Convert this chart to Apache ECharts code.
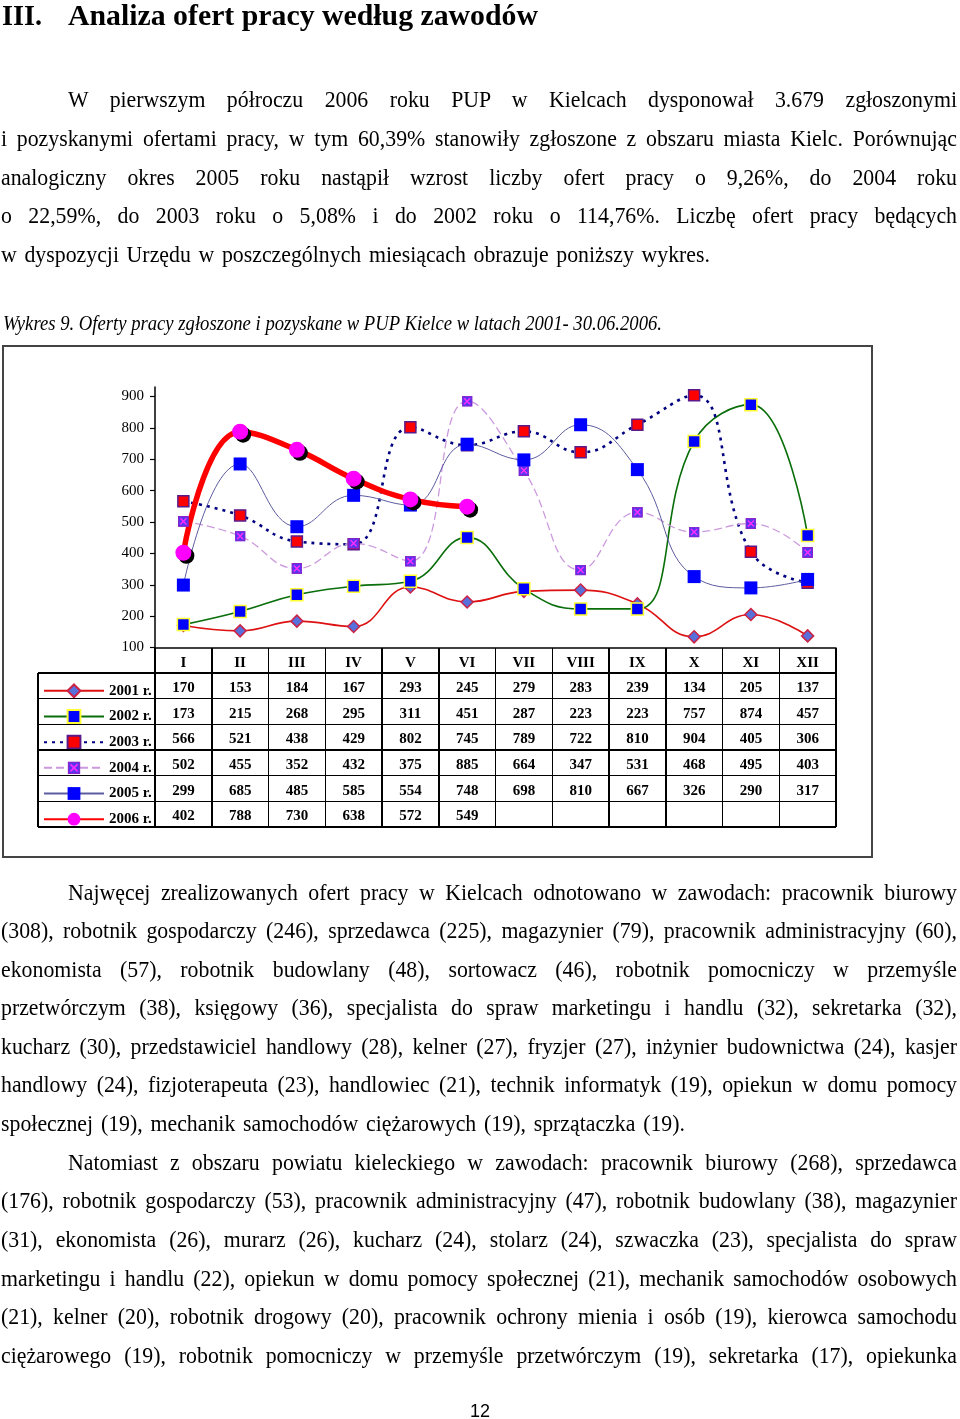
<!DOCTYPE html>
<html><head><meta charset="utf-8">
<script src="https://cdn.jsdelivr.net/npm/echarts/dist/echarts.min.js"></script>
<style>
body{margin:0;width:960px;height:1419px;position:relative;background:#fff;overflow:hidden;font-family:'Liberation Serif','Times New Roman',serif;color:#000}
#chart{position:absolute;left:0;top:0;width:960px;height:1419px;z-index:1}
.ln{position:absolute;white-space:pre;line-height:30px;height:30px;z-index:2}
.ln span{display:inline-block;transform-origin:0 50%}
#box{position:absolute;left:2px;top:345px;width:871px;height:513px;box-sizing:border-box;border:2px solid #444;z-index:0}
.hl,.vl{position:absolute;background:#000;z-index:2}
.cell{position:absolute;text-align:center;font-size:15px;font-weight:bold;line-height:20px;height:20px;z-index:2}
</style></head>
<body>
<div id="box"></div>
<div id="chart"></div>
<script>
// ---- data ----
const months = ['I','II','III','IV','V','VI','VII','VIII','IX','X','XI','XII'];
const seriesNames = ['2001 r.','2002 r.','2003 r.','2004 r.','2005 r.','2006 r.'];
const y2001 = [170,153,184,167,293,245,279,283,239,134,205,137];
const y2002 = [173,215,268,295,311,451,287,223,223,757,874,457];
const y2003 = [566,521,438,429,802,745,789,722,810,904,405,306];
const y2004 = [502,455,352,432,375,885,664,347,531,468,495,403];
const y2005 = [299,685,485,585,554,748,698,810,667,326,290,317];
const y2006 = [402,788,730,638,572,549];
const yTicks = [100,200,300,400,500,600,700,800,900];

// ---- text ---- [text, x, centerY, targetWidth, fontSize, condense, style, weight]
const F=22.5, C=0.97;
const lines = [
 ['III.',2,15,40,30,1,'','bold'],
 ['Analiza ofert pracy według zawodów',68,15,470,30,1,'','bold'],
 ['W pierwszym półroczu 2006 roku PUP w Kielcach dysponował 3.679 zgłoszonymi',68,100,889,F,C],
 ['i pozyskanymi ofertami pracy, w tym 60,39% stanowiły zgłoszone z obszaru miasta Kielc. Porównując',1,139,956,F,C],
 ['analogiczny okres 2005 roku nastąpił wzrost liczby ofert pracy o 9,26%, do 2004 roku',1,178,956,F,C],
 ['o 22,59%, do 2003 roku o 5,08% i do 2002 roku o 114,76%. Liczbę ofert pracy będących',1,216,956,F,C],
 ['w dyspozycji Urzędu w poszczególnych miesiącach obrazuje poniższy wykres.',1,255,709,F,C],
 ['Wykres 9. Oferty pracy zgłoszone i pozyskane w PUP Kielce w latach 2001- 30.06.2006.',3,323,659,20.5,0.95,'italic'],
 ['Najwęcej zrealizowanych ofert pracy w Kielcach odnotowano w zawodach: pracownik biurowy',68,893,889,F,C],
 ['(308), robotnik gospodarczy (246), sprzedawca (225), magazynier (79), pracownik administracyjny (60),',1,931,956,F,C],
 ['ekonomista (57), robotnik budowlany (48), sortowacz (46), robotnik pomocniczy w przemyśle',1,970,956,F,C],
 ['przetwórczym (38), księgowy (36), specjalista do spraw marketingu i handlu (32), sekretarka (32),',1,1008,956,F,C],
 ['kucharz (30), przedstawiciel handlowy (28), kelner (27), fryzjer (27), inżynier budownictwa (24), kasjer',1,1047,956,F,C],
 ['handlowy (24), fizjoterapeuta (23), handlowiec (21), technik informatyk (19), opiekun w domu pomocy',1,1085,956,F,C],
 ['społecznej (19), mechanik samochodów ciężarowych (19), sprzątaczka (19).',1,1124,684,F,C],
 ['Natomiast z obszaru powiatu kieleckiego w zawodach: pracownik biurowy (268), sprzedawca',68,1163,889,F,C],
 ['(176), robotnik gospodarczy (53), pracownik administracyjny (47), robotnik budowlany (38), magazynier',1,1201,956,F,C],
 ['(31), ekonomista (26), murarz (26), kucharz (24), stolarz (24), szwaczka (23), specjalista do spraw',1,1240,956,F,C],
 ['marketingu i handlu (22), opiekun w domu pomocy społecznej (21), mechanik samochodów osobowych',1,1279,956,F,C],
 ['(21), kelner (20), robotnik drogowy (20), pracownik ochrony mienia i osób (19), kierowca samochodu',1,1317,956,F,C],
 ['ciężarowego (19), robotnik pomocniczy w przemyśle przetwórczym (19), sekretarka (17), opiekunka',1,1356,956,F,C]
];
lines.forEach(([t,x,cy,w,fs,c,st,wt])=>{
  const d=document.createElement('div'); d.className='ln';
  d.style.left=x+'px'; d.style.top=(cy-15)+'px'; d.style.fontSize=fs+'px';
  if(st) d.style.fontStyle=st;
  if(wt) d.style.fontWeight=wt;
  const s=document.createElement('span'); s.textContent=t; d.appendChild(s);
  document.body.appendChild(d);
  const nw=s.getBoundingClientRect().width;
  const n=(t.match(/ /g)||[]).length;
  let sc=c;
  if(nw*c<w){
    if(n>0) s.style.wordSpacing=((w/c-nw)/n)+'px';
    else s.style.letterSpacing=((w/c-nw)/Math.max(1,t.length-1))+'px';
  } else sc=w/nw;
  s.style.transform='scaleX('+sc+')';
});
const pg=document.createElement('div'); pg.className='ln';
pg.style.cssText='left:0;width:960px;text-align:center;top:1396px;font-family:"Liberation Sans",Arial,sans-serif;font-size:18px';
pg.textContent='12'; document.body.appendChild(pg);

// ---- table ----
const tX0=38, tX1=155, colW=(836-155)/12, hTop=648, rTop=673, rowH=(827-673)/6;
function hl(x,y,w){const d=document.createElement('div');d.className='hl';d.style.cssText+=`left:${x}px;top:${y-0.75}px;width:${w}px;height:1.5px`;document.body.appendChild(d);}
function vl(x,y,h){const d=document.createElement('div');d.className='vl';d.style.cssText+=`left:${x-0.75}px;top:${y}px;width:1.5px;height:${h}px`;document.body.appendChild(d);}
function cell(txt,cx,cy){const d=document.createElement('div');d.className='cell';d.style.cssText+=`left:${cx-colW/2}px;top:${cy-10}px;width:${colW}px`;d.textContent=txt;document.body.appendChild(d);}
for(let i=0;i<=6;i++) hl(tX0, rTop+i*rowH, 836-tX0);
vl(tX0, rTop, 6*rowH);
for(let j=0;j<=12;j++) vl(tX1+j*colW, hTop, 827-hTop);
const allData=[y2001,y2002,y2003,y2004,y2005,y2006];
months.forEach((m,j)=>cell(m, tX1+(j+0.5)*colW, (hTop+rTop)/2+1));
allData.forEach((arr,i)=>arr.forEach((v,j)=>cell(String(v), tX1+(j+0.5)*colW, rTop+(i+0.5)*rowH+1)));

// ---- chart ----
const xSvg = "<svg xmlns='http://www.w3.org/2000/svg' width='20' height='20' viewBox='0 0 20 20'><rect x='1' y='1' width='18' height='18' fill='#5a34f0' stroke='#8a22c8' stroke-width='2'/><path d='M4.5 4.5L15.5 15.5M15.5 4.5L4.5 15.5' stroke='#ff2cff' stroke-width='2.6'/></svg>";
const xSym = 'image://data:image/svg+xml;charset=utf-8,' + encodeURIComponent(xSvg);
const sm = 0.45;
const chart = echarts.init(document.getElementById('chart'), null, {renderer:'canvas'});
chart.setOption({
  animation:false,
  backgroundColor:'transparent',
  grid:{left:155, right:124, top:387.1, bottom:1419-647.5, containLabel:false},
  legend:{orient:'vertical', left:38, top:rTop+rowH/2-8, itemWidth:60, itemHeight:16, itemGap:rowH-16,
    textStyle:{fontFamily:'Liberation Serif', fontSize:15, fontWeight:'bold', color:'#000', lineHeight:16}, data:seriesNames, selectedMode:false},
  xAxis:{type:'category', data:months, boundaryGap:true,
    axisLine:{lineStyle:{color:'#000', width:1.5}}, axisTick:{show:false}, axisLabel:{show:false}},
  yAxis:{type:'value', min:100, max:930, interval:100,
    axisLine:{show:true, lineStyle:{color:'#000', width:1.5}},
    axisTick:{show:true, length:5, customValues:yTicks, lineStyle:{color:'#000', width:1.2}},
    axisLabel:{customValues:yTicks, margin:11, fontFamily:'Liberation Serif', fontSize:15, color:'#000'},
    splitLine:{show:false}},
  series:[
    {name:seriesNames[0], type:'line', data:y2001, smooth:sm, symbol:'diamond', symbolSize:12,
     lineStyle:{color:'#dd1111', width:1.6}, itemStyle:{color:'#5870dc', borderColor:'#cc2244', borderWidth:1.5}},
    {name:seriesNames[1], type:'line', data:y2002, smooth:sm, symbol:'rect', symbolSize:12,
     lineStyle:{color:'#0a6e0a', width:1.6}, itemStyle:{color:'#0000ff', borderColor:'#ffff33', borderWidth:1.5}},
    {name:seriesNames[2], type:'line', data:y2003, smooth:sm, symbol:'rect', symbolSize:11,
     lineStyle:{color:'#000080', width:2.6, type:[3,5]}, itemStyle:{color:'#ff0000', borderColor:'#5a1a8a', borderWidth:1.5}},
    {name:seriesNames[3], type:'line', data:y2004, smooth:sm, symbol:xSym, symbolSize:11,
     lineStyle:{color:'#cc99dd', width:1.3, type:[8,4]}, itemStyle:{color:'#7a3cf0'}},
    {name:seriesNames[4], type:'line', data:y2005, smooth:sm, symbol:'rect', symbolSize:13,
     lineStyle:{color:'#5c5ca0', width:1}, itemStyle:{color:'#0000ff'}},
    {name:seriesNames[5], type:'line', data:y2006, smooth:sm, symbol:'circle', symbolSize:16,
     lineStyle:{color:'#ff0000', width:5.5}, itemStyle:{color:'#ff00ff', shadowColor:'#000', shadowOffsetX:3, shadowOffsetY:3, shadowBlur:0}}
  ]
});
</script>
</body></html>
